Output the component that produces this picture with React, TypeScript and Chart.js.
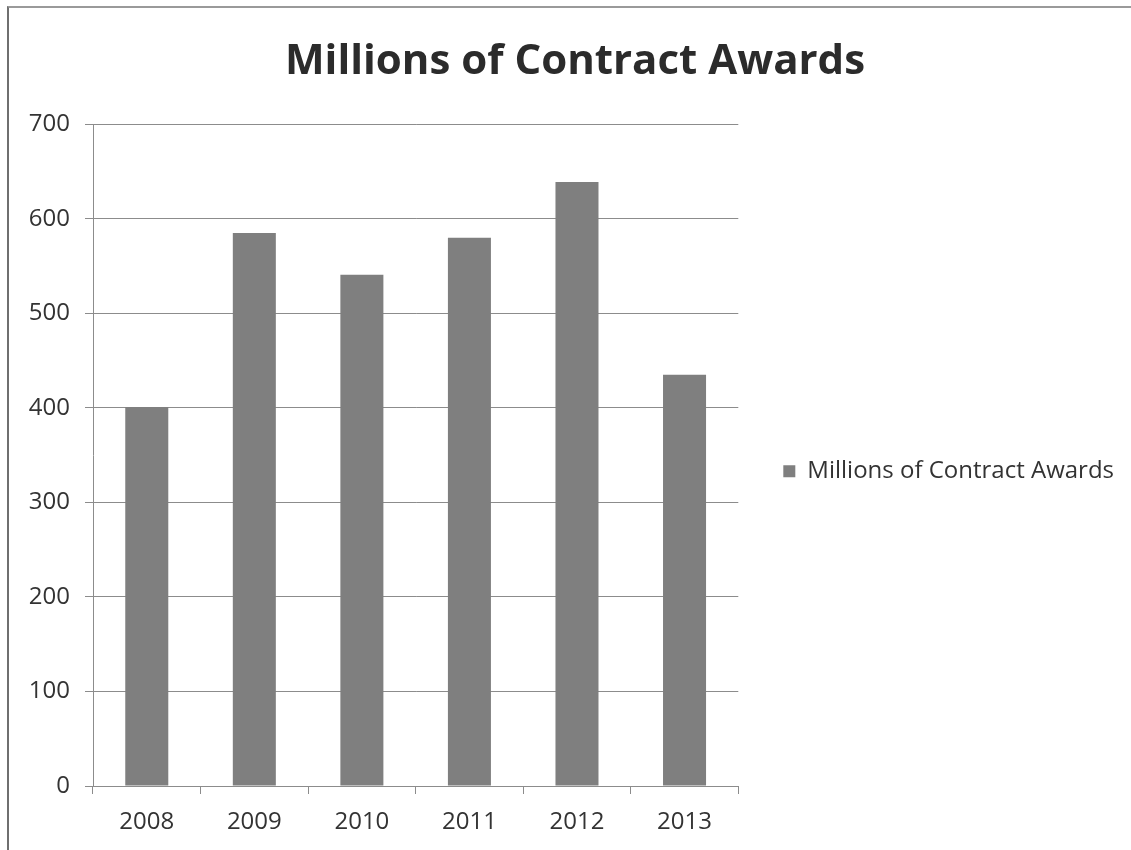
import React, { useEffect, useRef } from "react";
import { Chart, registerables } from "chart.js";

Chart.register(...registerables);

const categories = ["2008", "2009", "2010", "2011", "2012", "2013"];
const seriesLabel = "Millions of Contract Awards";
const seriesValues = [401, 585, 541, 580, 639, 435];
const titleText = "Millions of Contract Awards";
const yMin = 0;
const yMax = 700;
const yStep = 100;

export default function App() {
  const ref = useRef<HTMLCanvasElement | null>(null);

  useEffect(() => {
    if (!ref.current) return;
    const grid = "#8c8c8c";
    const chart = new Chart(ref.current, {
      type: "bar",
      data: {
        labels: categories,
        datasets: [
          {
            label: seriesLabel,
            data: seriesValues,
            backgroundColor: "#7f7f7f",
            borderWidth: 0,
            categoryPercentage: 1,
            barPercentage: 0.4,
          },
        ],
      },
      options: {
        animation: false,
        responsive: false,
        maintainAspectRatio: false,
        layout: { padding: { left: 26, right: 7, top: 0, bottom: 0 } },
        plugins: {
          tooltip: { enabled: false },
          title: {
            display: true,
            text: titleText,
            color: "#2b2b2b",
            font: { family: "'Open Sans'", size: 42, weight: "bold", lineHeight: 1.2 },
            padding: { top: 37, bottom: 37 },
          },
          legend: {
            display: true,
            position: "right",
            align: "center",
            maxWidth: 600,
            title: {
              display: true,
              text: " ",
              font: { size: 12, lineHeight: 1.2 },
              padding: 39,
            },
            labels: {
              color: "#333333",
              font: { family: "'Open Sans'", size: 24 },
              boxWidth: 12,
              boxHeight: 12,
              padding: 45,
            },
          },
        },
        scales: {
          x: {
            offset: true,
            grid: {
              display: true,
              drawOnChartArea: false,
              drawTicks: true,
              tickLength: 8,
              color: grid,
              offset: true,
            },
            border: { display: true, color: grid, width: 1 },
            ticks: {
              color: "#333333",
              font: { family: "'Open Sans'", size: 24 },
              padding: 14,
              maxRotation: 0,
            },
            afterFit: (scale: any) => {
              scale.height = 64;
            },
          },
          y: {
            min: yMin,
            max: yMax,
            grid: {
              color: grid,
              drawTicks: true,
              tickLength: 8,
            },
            border: { display: true, color: grid, width: 1 },
            ticks: {
              stepSize: yStep,
              color: "#333333",
              font: { family: "'Open Sans'", size: 24 },
              padding: 15,
            },
            afterFit: (scale: any) => {
              scale.width = 67;
            },
          },
        },
      },
    });
    return () => chart.destroy();
  }, []);

  return (
    <div style={{ position: "absolute", left: 0, top: 0, width: 1131, height: 850, background: "#ffffff", overflow: "hidden" }}>
      <div
        style={{
          position: "absolute",
          left: 7,
          top: 6,
          right: -4,
          bottom: -4,
          borderLeft: "2px solid #6f6f6f",
          borderTop: "2px solid #9a9a9a",
        }}
      />
      <canvas ref={ref} width={1131} height={850} style={{ position: "absolute", left: 0, top: 0, width: 1131, height: 850 }} />
    </div>
  );
}
